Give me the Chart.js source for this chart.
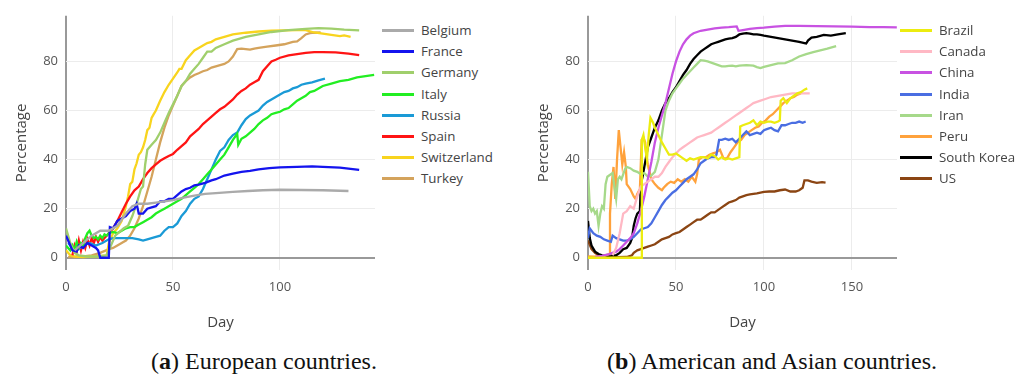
<!DOCTYPE html>
<html>
<head>
<meta charset="utf-8">
<script src="https://cdn.jsdelivr.net/npm/chart.js@4/dist/chart.umd.min.js"></script>
<style>
  body { margin: 0; background: #fff; width: 1030px; height: 376px; overflow: hidden; position: relative; }
  canvas { position: absolute; top: 0; }
  .legend { position: absolute; top: 20px; font-family: 'Open Sans', sans-serif; font-size: 13.3px; color: #444; }
  .legend div { height: 21.2px; line-height: 21.2px; white-space: nowrap; }
  .legend span { display: inline-block; width: 32px; height: 3px; vertical-align: middle; margin-right: 7px; position: relative; top: -1px; }
  .caption { position: absolute; top: 347px; line-height: 28px; font-family: 'Liberation Serif', serif; font-size: 24px; color: #111; white-space: nowrap; transform: translateX(-50%); }
</style>
</head>
<body>
<canvas id="chartA" width="380" height="340" style="left:0px"></canvas>
<canvas id="chartB" width="380" height="340" style="left:522px"></canvas>
<div class="legend" id="legendA" style="left:382px"></div>
<div class="legend" id="legendB" style="left:900px"></div>
<div class="caption" style="left:264px">(<b>a</b>) European countries.</div>
<div class="caption" style="left:772px">(<b>b</b>) American and Asian countries.</div>
<script>
// ---- data: [day, percentage] ----
const countriesA = ['Belgium', 'France', 'Germany', 'Italy', 'Russia', 'Spain', 'Switzerland', 'Turkey'];
const countriesB = ['Brazil', 'Canada', 'China', 'India', 'Iran', 'Peru', 'South Korea', 'US'];

const belgium = [[4,3],[8,6],[12,9],[16,11],[20,11],[24,13],[28,18],[31,21],[34,22],[38,22],[42,22.5],[46,23],[50,23.5],[55,24.5],[60,25.3],[65,26],[70,26.3],[78,26.8],[85,27.2],[92,27.5],[100,27.7],[110,27.6],[120,27.5],[132,27.2]];
const france = [[0,9],[1,7],[3,3],[5,2.5],[6,5],[8,4],[10,6],[12,5],[14,4],[15,3],[16,0],[20,0],[20.5,12.5],[22,12],[24,15],[26,16],[28,17],[30,19],[32,20],[33,22],[34,18],[36,18],[38,20],[40,20.5],[42,21],[44,23],[46,23],[48,24],[50,24],[52,25.5],[54,27],[56,28],[58,28.5],[60,29.5],[62,29.8],[65,30.5],[68,31.5],[70,32],[74,33.5],[78,34.3],[82,35],[86,35.4],[90,36],[95,36.5],[100,36.8],[108,37],[115,37.2],[120,37],[128,36.7],[137,35.8]];
const germany = [[0,12],[1,9],[2,6],[4,2],[6,1],[10,0.5],[15,0.5],[19,1],[21,5],[23,9],[25,10.5],[27,12],[29,13],[31,17],[33,22],[35,28],[36,29],[37,38],[38,44],[40,46],[42,48],[44,51],[46,55],[48,59],[50,62.5],[52,66],[54,70],[56,72],[58,75],[60,77],[62,79],[64,81.5],[66,84],[68,84],[70,85.5],[74,87],[78,88.5],[84,90],[90,91],[96,92],[104,92.8],[112,93.3],[118,93.6],[124,93.4],[130,93],[137,92.7]];
const italy = [[0,5],[1,4],[2,3],[3,5],[4,3],[5,6.5],[6,4],[7,6],[8,5],[9,8],[10,10],[11,11],[12,9],[13,8],[14,8.5],[15,7.5],[16,9],[17,8],[18,9.5],[19,9],[20,10],[22,10.5],[24,10],[26,11],[28,12],[30,12.5],[32,12.5],[34,13.5],[36,14.5],[38,15.5],[40,16.5],[42,18],[44,19],[46,20],[48,21],[50,22],[52,23],[54,24],[56,25.5],[58,27],[60,28.5],[62,30],[64,32],[66,34],[68,36],[70,38],[72,40],[74,42],[76,45],[78,48],[80,50.5],[80.5,46],[82,48.5],[84,49.5],[86,51],[88,52.5],[90,54.5],[92,56],[94,57],[96,58.5],[98,59],[100,59.5],[102,60.5],[104,61],[106,62.5],[108,64],[110,65],[112,66],[114,67.5],[116,68],[118,69],[120,70],[124,71],[128,72],[132,72.5],[136,73.5],[140,74],[144,74.5]];
const russia = [[1,6],[3,4],[5,3],[8,5],[11,6],[14,5],[17,6],[20,7.5],[22,8],[25,8],[28,8],[31,8],[34,7.5],[36,7],[38,7.5],[40,8],[42,8.5],[44,9],[46,11],[48,12.5],[50,12.5],[52,14],[54,17],[56,19],[58,22],[60,24],[62,25],[64,28],[66,32],[68,36],[70,40],[72,43.5],[74,45],[76,48],[78,50],[80,51],[82,54],[84,56.5],[86,58],[88,59],[90,60],[92,62],[94,63.5],[96,64.5],[98,65.5],[100,66.5],[102,67.5],[104,68],[106,69],[108,69.5],[110,70.5],[112,71],[115,71.5],[118,72.3],[121,73]];
const spain = [[3,1],[4,5],[5,2.5],[6,7],[7,3],[8,6.5],[9,4],[10,7.5],[11,5],[12,8],[13,6],[14,8.5],[15,6.5],[16,8.5],[17,7],[18,8],[19,9],[20,10],[21,11],[22,12],[24,15],[26,18.5],[28,22],[30,25],[32,27.5],[34,29],[36,32],[38,34.5],[40,36.5],[42,38],[44,39.5],[46,40.5],[48,41.5],[50,42.3],[52,44],[54,45.5],[56,47],[58,49.5],[60,51],[62,52.5],[64,54.5],[66,56],[68,57.5],[70,59],[72,60.5],[74,61.5],[76,63],[78,64.5],[80,66.5],[82,68],[84,69],[86,70.5],[88,71.5],[90,72.5],[92,76],[94,78],[96,80],[98,80.7],[100,81.5],[104,82.5],[108,83],[112,83.5],[116,83.8],[120,83.8],[126,83.7],[132,83.2],[137,82.6]];
const switzerland = [[0,3],[1,2],[2,1],[4,0.5],[8,0.3],[12,0.5],[16,0.7],[19,1],[20,6],[21,8],[22,10],[24,12],[26,15],[27,18],[28,21],[29,25],[30,30],[31,31],[32,36],[33,38.5],[34,42],[35,43],[36,45],[37,48],[38,52],[39,53],[40,57],[41,58.5],[42,60],[44,64],[46,67.5],[48,70.5],[50,73],[52,75.5],[53,77],[54,77],[56,80.5],[58,82.5],[60,84.5],[62,85.5],[64,86.5],[66,87.5],[68,88],[70,89],[74,90],[78,91],[84,91.7],[90,92.2],[96,92.5],[102,92.7],[108,92.8],[112,92.8],[116,91.8],[120,91.3],[124,90.8],[128,90.3],[130,90.6],[133,90]];
const turkey = [[1,0.3],[4,0.3],[8,0.5],[12,1],[16,2],[20,3.5],[22,4],[24,5],[26,6],[28,7],[30,9],[32,12],[34,16],[36,21],[38,27],[40,33],[42,40],[44,47],[46,53],[48,58],[50,62],[52,66],[54,70],[56,72],[58,73.5],[60,74.5],[62,75.2],[64,76],[66,76.5],[68,77.5],[70,78],[72,78.5],[74,79],[76,80],[78,82],[80,85],[82,85.2],[84,85],[86,84.8],[88,85.2],[90,85.5],[94,86],[98,86.5],[102,87],[106,88],[108,88.2],[110,89.5],[112,91],[114,91.5],[116,91.7],[119,91.8]];

const brazil = [[0,0],[10,0],[20,0],[30.3,0],[30.6,48],[31.5,50],[32.5,45],[33.5,40],[34.5,50],[35.5,57],[37,55],[38,53],[40,50],[42,47],[44,44.5],[46,42],[48,42],[50,42.5],[52,41.5],[54,40.5],[56,39.5],[58,40.5],[60,40],[62,40.5],[64,41],[66,41],[68,40.5],[70,42],[72,41.5],[74,40],[76,41],[78,40],[80,40.5],[82,40],[84,40.5],[86,41],[86.5,53.5],[88,54],[90,54.5],[92,55],[94,56],[96,54],[98,55.5],[100,55],[102,55.5],[104,55.5],[106,55],[108,55.5],[109,56],[109.5,64],[111,65],[113,63],[115,65],[117,66],[119,67],[121,67.5],[123,68.5],[124.6,69]];
const canada = [[14,1],[16,4],[18,10],[19,14],[20,18],[22,19],[24,21],[26,20],[28,25],[30,29],[32,30],[34,31],[36,32],[38,33],[40,33],[42,34.5],[44,37],[46,39],[48,41],[50,42.5],[52,44],[54,45],[56,46],[58,47],[60,48],[62,49],[64,49.5],[66,50],[68,50.5],[70,51],[72,52],[74,53],[76,54],[78,55],[80,56],[82,57],[84,58],[86,59],[88,60],[90,61],[92,62],[94,63],[96,63.5],[98,64],[100,64.5],[104,65.5],[108,66],[112,66.5],[116,67],[120,67],[126,67]];
const china = [[4,0.3],[8,0.8],[12,1.5],[16,2.5],[18,3.5],[20,5],[22,6.5],[24,8],[26,10],[28,14],[30,19],[32,25],[34,32],[36,39],[38,47],[40,53],[42,58],[44,63],[46,69],[48,75],[50,80],[52,84],[54,87],[56,89],[58,90.5],[60,91.5],[64,92.5],[68,93],[72,93.5],[76,93.8],[80,94],[84.5,94.3],[85.5,92.5],[88,92.8],[92,93.3],[96,93.6],[100,93.8],[106,94.2],[112,94.5],[120,94.5],[130,94.4],[140,94.3],[150,94.2],[160,94],[168,94],[175.5,93.9]];
const india = [[0,8],[1,12],[3,10],[5,9],[7,8.5],[9,7.5],[11,7],[13,6.5],[14,9],[16,8],[18,7.5],[20,7],[22,7],[24,7.5],[26,8.5],[28,10],[30,11.5],[32,12],[34,12.5],[36,14],[38,16.5],[40,19],[42,21.5],[44,23.5],[46,25],[48,26.5],[50,27.5],[52,29],[54,30.5],[56,32],[58,33],[60,34],[62,36],[64,38.5],[66,39.5],[68,40.5],[70,41],[72,41],[73,42],[74.5,48],[76,48],[78,48.5],[80,48],[82,48.5],[84,47],[86,48.5],[88,50],[90,51.5],[92,50],[94,50.5],[96,51],[98,50.5],[100,52],[102,52.5],[104,53],[106,52],[108,51.5],[110,54],[112,54],[114,54.5],[116,55],[118,55],[120,55.5],[122,55],[123.7,55.5]];
const iran = [[0,35],[1,21],[2,19],[3,20],[4,18],[5,19],[6,13],[7,18],[8,21],[9,20],[10,30],[11,33],[13,34],[14,34.5],[15,29],[16,24],[17,32],[18,33],[19,32],[20,34],[21,36],[22,37],[24,36.5],[26,35.5],[28,35],[30,34],[32,34.5],[34,33],[36,33.5],[38,35],[40,40],[42,50],[44,60],[46,64],[48,67],[50,69],[52,71],[54,73],[56,74.5],[58,76],[60,77.5],[62,79],[64,80.5],[66,80.3],[68,80],[70,79.5],[72,79],[74,78.5],[76,78],[78,78],[80,78.2],[82,78.3],[84,78],[86,78.3],[90,78.5],[94,78.3],[96,77.7],[98,77.3],[100,77.8],[104,78.5],[108,79.2],[112,79.3],[116,80.5],[120,82],[124,83],[128,83.8],[132,84.5],[136,85.2],[141,86.2]];
const peru = [[0,0.5],[4,0.4],[8,0.5],[12,1.5],[12.5,18],[13.5,30],[14.5,37],[15.5,24],[16.5,40],[17.5,52],[18.5,45],[19.5,38],[20.5,43],[21.5,37],[22,30],[24,28],[26,25],[27,24],[28,26],[29.5,28],[30.5,48],[31.5,49],[32.5,47],[33,43],[34,38],[36,32],[38,30],[40,28.5],[42,27.5],[43,28.5],[45,30],[47,31],[49,30.5],[51,32],[53,31],[55,32],[57,31],[59,33],[61,31],[62,34],[63,40],[65,41],[67,41],[69,42],[71,42.5],[73,43],[75,44],[77,40.5],[79,40.5],[81,43],[83,45],[85,47],[87,48],[89,50],[91,51],[93,52],[95,53],[97,53.5],[99,55],[101,56],[103,57.5],[105,58.5],[107,60],[109,61.5],[111,63],[113,64],[115,65],[117,65.5],[119,66.5],[121,67]];
const southKorea = [[0,15],[1,8],[2,5],[4,2.5],[6,1.5],[8,1],[12,0.8],[14,1],[16,1],[18,2],[20,3.5],[22,4],[24,6],[25,8],[26,13],[27,16],[28,18],[29.5,19],[30,30],[31,33],[32,37],[33,41],[34,45],[36,49],[38,53],[40,56],[42,60],[44,63],[46,65],[48,67.5],[50,69.5],[52,72],[54,74.5],[56,76.5],[58,79],[60,81],[62,82.5],[64,84],[66,85],[68,86],[70,87],[72,87.5],[74,88],[76,88.5],[78,89],[80,89.3],[82,89.5],[84,90],[86,91],[88,91.3],[90,91.5],[92,91.3],[94,91],[96,91],[98,90.8],[100,90.5],[104,90],[108,89.5],[112,89],[116,88.5],[120,88],[123,87.5],[124,87.3],[125,88.5],[127,89.7],[130,90],[134,90.8],[138,90.5],[142,91],[146.5,91.5]];
const us = [[0,7],[2,3.5],[4,2],[6,1],[10,0.4],[16,0.2],[22,0.3],[25,1],[26,2],[28,3],[30,3.5],[32,4],[34,4.5],[36,5],[38,5.5],[40,6.5],[42,7.5],[44,8],[46,8.5],[48,9.5],[50,10],[52,10.5],[54,11.5],[56,12.5],[58,13.5],[60,14.5],[62,15.5],[64,15.5],[66,16.5],[68,17.5],[70,18.5],[72,18.5],[74,19.5],[76,20.5],[78,21.5],[80,22.5],[82,23],[84,23.5],[86,24.5],[88,25],[90,25.5],[92,25.8],[94,26],[96,26.2],[98,26.5],[100,26.8],[103,27],[106,27],[109,27.5],[112,27.8],[115,27],[118,27],[120,27.5],[122,28.5],[123,31.5],[125,31.5],[127,31],[130,30.5],[133,30.8],[135,30.6]];

const yTicks = [0, 20, 40, 60, 80];
const xTicksA = [0, 50, 100];
const xTicksB = [0, 50, 100, 150];

const seriesA = [belgium, france, germany, italy, russia, spain, switzerland, turkey];
const seriesB = [brazil, canada, china, india, iran, peru, southKorea, us];

const colorsA = ['#aaaaaa', '#1414ee', '#a0cf6c', '#22ee22', '#1a9ad6', '#ff1414', '#f8d41e', '#d4a35c'];
const colorsB = ['#ecec10', '#ffb8c4', '#c852e2', '#4a6ee2', '#a6d98a', '#ffa23c', '#000000', '#8b4513'];

Chart.defaults.font.family = "'Open Sans', sans-serif";
Chart.defaults.color = '#555';

function makeChart(id, names, series, colors, xMax, xTicks) {
    const datasets = names.map((name, i) => ({
        label: name,
        data: series[i].map(p => ({ x: p[0], y: p[1] })),
        borderColor: colors[i],
        borderWidth: 2.3,
        pointRadius: 0,
        fill: false,
        tension: 0
    }));

    return new Chart(document.getElementById(id), {
        type: 'line',
        data: { datasets: datasets },
        options: {
            responsive: false,
            animation: false,
            layout: { padding: { top: 15, right: 5, left: 0, bottom: 0 } },
            plugins: { legend: { display: false }, tooltip: { enabled: false } },
            scales: {
                x: {
                    type: 'linear',
                    min: 0,
                    max: xMax,
                    afterBuildTicks: s => { s.ticks = xTicks.map(v => ({ value: v })); },
                    afterFit: s => { s.height = 70; },
                    grid: {
                        drawTicks: false,
                        color: c => (c.tick && c.tick.value === 0) ? '#999' : '#ececec',
                        lineWidth: c => (c.tick && c.tick.value === 0) ? 2 : 1
                    },
                    border: { display: false },
                    ticks: { padding: 9, font: { size: 13 }, maxRotation: 0 },
                    title: { display: true, text: 'Day', font: { size: 15 }, color: '#444', padding: { top: 0, bottom: 8 } }
                },
                y: {
                    min: -5,
                    max: 98.6,
                    afterBuildTicks: s => { s.ticks = yTicks.map(v => ({ value: v })); },
                    afterFit: s => { s.width = 66; },
                    grid: {
                        drawTicks: false,
                        color: c => (c.tick && c.tick.value === 0) ? '#999' : '#ececec',
                        lineWidth: c => (c.tick && c.tick.value === 0) ? 2 : 1
                    },
                    border: { display: false },
                    ticks: { padding: 8, font: { size: 13 } },
                    title: { display: true, text: 'Percentage', font: { size: 15 }, color: '#444', padding: { top: 13, bottom: 0 } }
                }
            }
        }
    });
}

function makeLegend(id, names, colors) {
    const box = document.getElementById(id);
    names.forEach((name, i) => {
        const row = document.createElement('div');
        row.innerHTML = '<span style="background:' + colors[i] + '"></span>' + name;
        box.appendChild(row);
    });
}

makeChart('chartA', countriesA, seriesA, colorsA, 144.4, xTicksA);
makeChart('chartB', countriesB, seriesB, colorsB, 175.6, xTicksB);
makeLegend('legendA', countriesA, colorsA);
makeLegend('legendB', countriesB, colorsB);
</script>
</body>
</html>
